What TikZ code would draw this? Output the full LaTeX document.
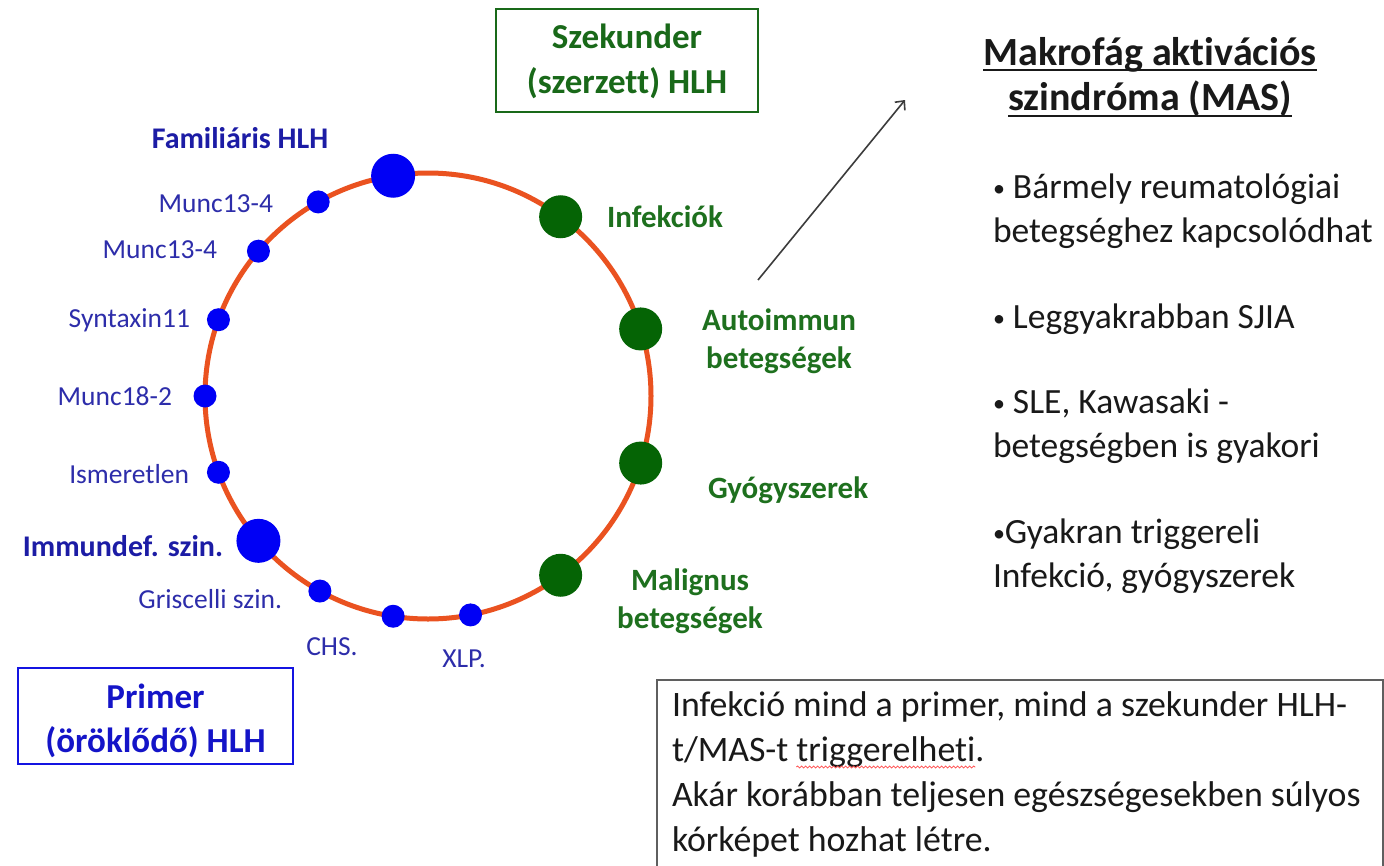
\documentclass[tikz,border=0pt]{standalone}
\usepackage{fontspec}
\setmainfont{Carlito}[Ligatures={NoCommon,NoContextual}]
\usetikzlibrary{arrows.meta,decorations.pathmorphing,calc}
\definecolor{dotblue}{RGB}{0,0,245}
\definecolor{lblblue}{RGB}{45,45,170}
\definecolor{hdblue}{RGB}{28,28,165}
\definecolor{boxblue}{RGB}{20,20,225}
\definecolor{prblue}{RGB}{20,20,200}
\definecolor{dotgreen}{RGB}{5,100,5}
\definecolor{txtgreen}{RGB}{30,112,30}
\definecolor{boxgreen}{RGB}{25,105,25}
\definecolor{ringred}{RGB}{234,82,32}
\definecolor{txtdark}{RGB}{25,25,25}
\definecolor{boxgray}{RGB}{95,95,95}
\definecolor{arrgray}{RGB}{60,60,60}
\newcommand{\fs}[1]{\fontsize{#1}{#1}\selectfont}
\newcommand{\bul}{\raisebox{2pt}{\fs{24}•}}
\tikzset{
  txt/.style={inner sep=0pt, outer sep=0pt},
  lab/.style={txt, text=lblblue, font=\fs{27.5}},
  blab/.style={txt, text=hdblue, font=\bfseries\fs{30}},
  glab/.style={txt, text=txtgreen, font=\bfseries\fs{31}},
  rtext/.style={txt, text=txtdark, font=\fs{35.5}, anchor=base west},
  rtitle/.style={txt, text=txtdark, font=\bfseries\fs{40}, anchor=base},
  ntext/.style={txt, text=txtdark, font=\fs{35.8}, anchor=base west},
  bigdot/.style={circle, fill=dotblue, minimum size=44pt, inner sep=0pt},
  smalldot/.style={circle, fill=dotblue, minimum size=23pt, inner sep=0pt},
  gdot/.style={circle, fill=dotgreen, minimum size=43pt, inner sep=0pt},
  arr/.style={draw=arrgray, line width=1.6pt, -{Straight Barb[length=7pt,width=13pt,line width=1.6pt]}},
}
\begin{document}
\begin{tikzpicture}[x=1pt, y=-1pt]
\path[fill=white,use as bounding box] (0,0) rectangle (1384,865);

% ring
\coordinate (C) at (428,396);
\draw[ringred, line width=5pt] (C) circle[radius=223pt];

% blue dots
\node[bigdot]   (fam)  at ($(C)+(-99:223)$) {};
\node[smalldot] (m1)   at ($(C)+(-119.5:223)$) {};
\node[smalldot] (m2)   at ($(C)+(-139.5:223)$) {};
\node[smalldot] (syn)  at ($(C)+(-160:223)$) {};
\node[smalldot] (m18)  at ($(C)+(180:223)$) {};
\node[smalldot] (ism)  at ($(C)+(160:223)$) {};
\node[bigdot]   (imm)  at ($(C)+(139.5:223)$) {};
\node[smalldot] (gri)  at ($(C)+(119:223)$) {};
\node[smalldot] (chs)  at ($(C)+(99:223)$) {};
\node[smalldot] (xlp)  at ($(C)+(79:223)$) {};
% green dots
\node[gdot] (inf) at ($(C)+(-53.5:223)$) {};
\node[gdot] (aut) at ($(C)+(-17.5:223)$) {};
\node[gdot] (gyo) at ($(C)+(17.5:223)$) {};
\node[gdot] (mal) at ($(C)+(53.5:223)$) {};

% blue labels
\node[blab, anchor=base] (lfam) at (240,148) {Familiáris HLH};
\node[lab, anchor=base east] (lm1) at (273,212) {Munc13-4};
\node[lab, anchor=base east] (lm2) at (217,258) {Munc13-4};
\node[lab, anchor=base east] (lsyn) at (190,327) {Syntaxin11};
\node[lab, anchor=base east] (lm18) at (172,405) {Munc18-2};
\node[lab, anchor=base east] (lism) at (189,483) {Ismeretlen};
\node[blab, anchor=base east] (limm) at (223,556) {Immundef. szin.};
\node[lab, anchor=base east] (lgri) at (282,608) {Griscelli szin.};
\node[lab, anchor=base] (lchs) at (332,655) {CHS.};
\node[lab, anchor=base] (lxlp) at (464,667) {XLP.};

% green labels
\node[glab, anchor=base west] (linf) at (607,227) {Infekciók};
\node[glab, anchor=base] (laut1) at (779,330) {Autoimmun};
\node[glab, anchor=base] (laut2) at (779,368) {betegségek};
\node[glab, anchor=base west] (lgyo) at (708,498) {Gyógyszerek};
\node[glab, anchor=base] (lmal1) at (690,590) {Malignus};
\node[glab, anchor=base] (lmal2) at (690,628) {betegségek};

% boxes
\node[draw=boxgreen, line width=2.5pt, minimum width=262pt, minimum height=103pt, inner sep=0pt] (szbox) at (627,60.5) {};
\node[txt, text=boxgreen, font=\bfseries\fs{35}, anchor=base] (sz1) at (627,48) {Szekunder};
\node[txt, text=boxgreen, font=\bfseries\fs{35}, anchor=base] (sz2) at (627,93) {(szerzett) HLH};

\node[draw=boxblue, line width=2.5pt, minimum width=275pt, minimum height=96pt, inner sep=0pt] (prbox) at (155.5,716) {};
\node[txt, text=prblue, font=\bfseries\fs{35}, anchor=base] (pr1) at (155.5,708) {Primer};
\node[txt, text=prblue, font=\bfseries\fs{35}, anchor=base] (pr2) at (155.5,752) {(öröklődő) HLH};

% arrow
\coordinate (a0) at (758,280);
\coordinate (a1) at (905,100);
\draw[arr] (a0) -- (a1);

% MAS text
\node[rtitle] (t1) at (1150,65) {Makrofág aktivációs};
\node[rtitle] (t2) at (1150,110) {szindróma (MAS)};
\draw[txtdark, line width=2pt] ([yshift=-5pt]t1.base west) -- ([yshift=-5pt]t1.base east);
\draw[txtdark, line width=2pt] ([yshift=-6pt]t2.base west) -- ([yshift=-6pt]t2.base east);
\node[rtext] (b1)  at (993,198) {\bul\ Bármely reumatológiai};
\node[rtext] (b1b) at (993,242) {betegséghez kapcsolódhat};
\node[rtext] (b2)  at (993,328) {\bul\ Leggyakrabban SJIA};
\node[rtext] (b3)  at (993,413) {\bul\ SLE, Kawasaki -};
\node[rtext] (b3b) at (993,457) {betegségben is gyakori};
\node[rtext] (b4)  at (993,543) {\bul Gyakran triggereli};
\node[rtext] (b4b) at (993,587) {Infekció, gyógyszerek};

% note box
\node[draw=boxgray, line width=1.5pt, minimum width=726pt, minimum height=200pt, inner sep=0pt, anchor=north west] (note) at (656,679) {};
\node[ntext] (n1) at (672,716) {Infekció mind a primer, mind a szekunder HLH-};
\node[ntext] (n2a) at (672,761) {t/MAS-t};
\node[ntext] (n2b) at ([xshift=8pt]n2a.base east) {triggerelheti.};
\node[ntext] (n3) at (672,806) {Akár korábban teljesen egészségesekben súlyos};
\node[ntext] (n4) at (672,851) {kórképet hozhat létre.};
\draw[red!70!white, line width=0.8pt, decorate, decoration={snake, amplitude=1pt, segment length=4pt}]
  ([yshift=-6pt]n2b.base west) -- ([yshift=-6pt,xshift=-9pt]n2b.base east);
\end{tikzpicture}
\end{document}
